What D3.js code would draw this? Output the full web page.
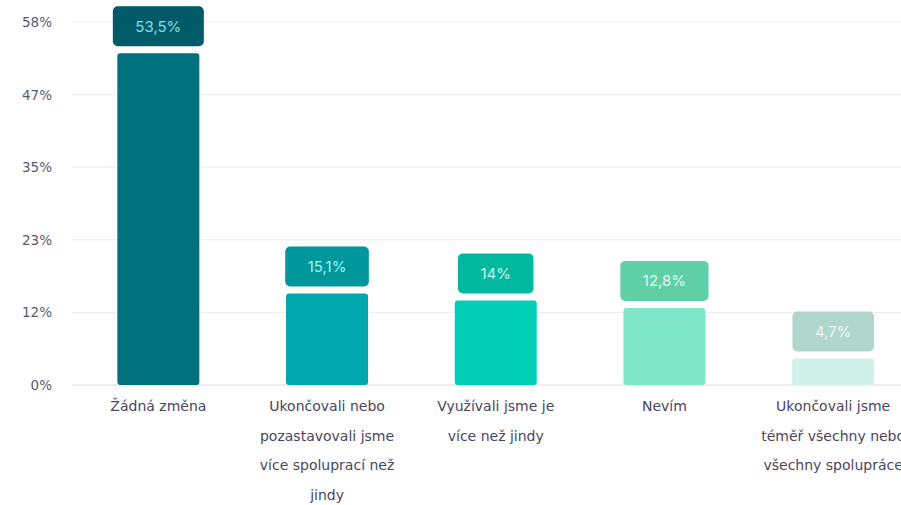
<!DOCTYPE html>
<html>
<head>
<meta charset="utf-8">
<script src="https://cdn.jsdelivr.net/npm/d3@7"></script>
<style>
  html, body { margin: 0; padding: 0; background: #ffffff; }
  svg { display: block; }
</style>
</head>
<body>
<svg id="chart" width="901" height="505"></svg>
<script>
// Categories (line breaks mark how each label wraps under its bar)
const categories = [
  "Žádná změna",
  "Ukončovali nebo\npozastavovali jsme\nvíce spoluprací než\njindy",
  "Využívali jsme je\nvíce než jindy",
  "Nevím",
  "Ukončovali jsme\ntéměř všechny nebo\nvšechny spolupráce"
];
const values = [53.5, 15.1, 14, 12.8, 4.7];
const valueLabels = ["53,5%", "15,1%", "14%", "12,8%", "4,7%"];
const yTickValues = [0, 11.6, 23.2, 34.8, 46.4, 58];
const yTickLabels = ["0%", "12%", "23%", "35%", "47%", "58%"];

const barColors   = ["#00717d", "#00a8ae", "#00cfb5", "#80e6c8", "#d0f1e8"];
const boxColors   = ["#005a68", "#00979c", "#00b99f", "#5fcfa8", "#b1d7cd"];
const boxText     = ["#7ee0e8", "#9cf6f6", "#c9f4ea", "#e2f8ef", "#e9f6f2"];

const svg = d3.select("#chart");
const margin = { top: 22, bottom: 120, left: 72 };
const height = 505;

const y = d3.scaleLinear().domain([0, 58]).range([height - margin.bottom, margin.top]);
const x = d3.scaleBand()
  .domain(categories)
  .range([74, 917.5])
  .paddingInner(0.514)
  .paddingOuter(0.257);

// Horizontal gridlines
svg.append("g")
  .selectAll("line")
  .data(yTickValues)
  .join("line")
  .attr("x1", margin.left)
  .attr("x2", 901)
  .attr("y1", d => y(d))
  .attr("y2", d => y(d))
  .attr("stroke", d => d === 0 ? "#dcdce2" : "#ececec")
  .attr("stroke-width", 1);

// Y axis labels
const yAxis = d3.axisLeft(y)
  .tickValues(yTickValues)
  .tickFormat((d, i) => yTickLabels[i])
  .tickSize(0)
  .tickPadding(0);
const yg = svg.append("g")
  .attr("transform", "translate(52,0)")
  .call(yAxis);
yg.select(".domain").remove();
yg.selectAll("text")
  .attr("font-family", "'DejaVu Sans', sans-serif")
  .attr("font-size", 13.5)
  .attr("fill", "#5a5a6e")
  .attr("dy", "0.34em");

// Bars
const bars = svg.append("g");
const barInset = 3;
bars.selectAll("rect")
  .data(values)
  .join("rect")
  .attr("x", (d, i) => x(categories[i]))
  .attr("width", x.bandwidth())
  .attr("y", d => y(d) + barInset)
  .attr("height", d => y(0) - y(d) - barInset)
  .attr("rx", 3)
  .attr("fill", (d, i) => barColors[i]);

// Value label boxes above bars
const labels = svg.append("g");
values.forEach((v, i) => {
  const cx = x(categories[i]) + x.bandwidth() / 2;
  const top = y(v) + barInset;
  const g = labels.append("g");
  const rect = g.append("rect");
  const t = g.append("text")
    .attr("x", cx)
    .attr("y", top - 7 - 20)
    .attr("text-anchor", "middle")
    .attr("dy", "0.36em")
    .attr("font-family", "Inter, 'Open Sans', sans-serif")
    .attr("font-size", 15)
    .attr("fill", boxText[i])
    .text(valueLabels[i]);
  const w = t.node().getComputedTextLength() + 45;
  rect.attr("x", cx - w / 2)
    .attr("y", top - 7 - 40)
    .attr("width", w)
    .attr("height", 40)
    .attr("rx", 5)
    .attr("fill", boxColors[i]);
  t.raise();
});

// Category labels under the bars
const cat = svg.append("g");
categories.forEach((c, i) => {
  const cx = x(c) + x.bandwidth() / 2;
  const txt = cat.append("text")
    .attr("text-anchor", "middle")
    .attr("font-family", "'DejaVu Sans', sans-serif")
    .attr("font-size", 14)
    .attr("fill", "#4a4560");
  c.split("\n").forEach((line, k) => {
    txt.append("tspan")
      .attr("x", cx)
      .attr("y", 411 + k * 29.7)
      .text(line);
  });
});
</script>
</body>
</html>
